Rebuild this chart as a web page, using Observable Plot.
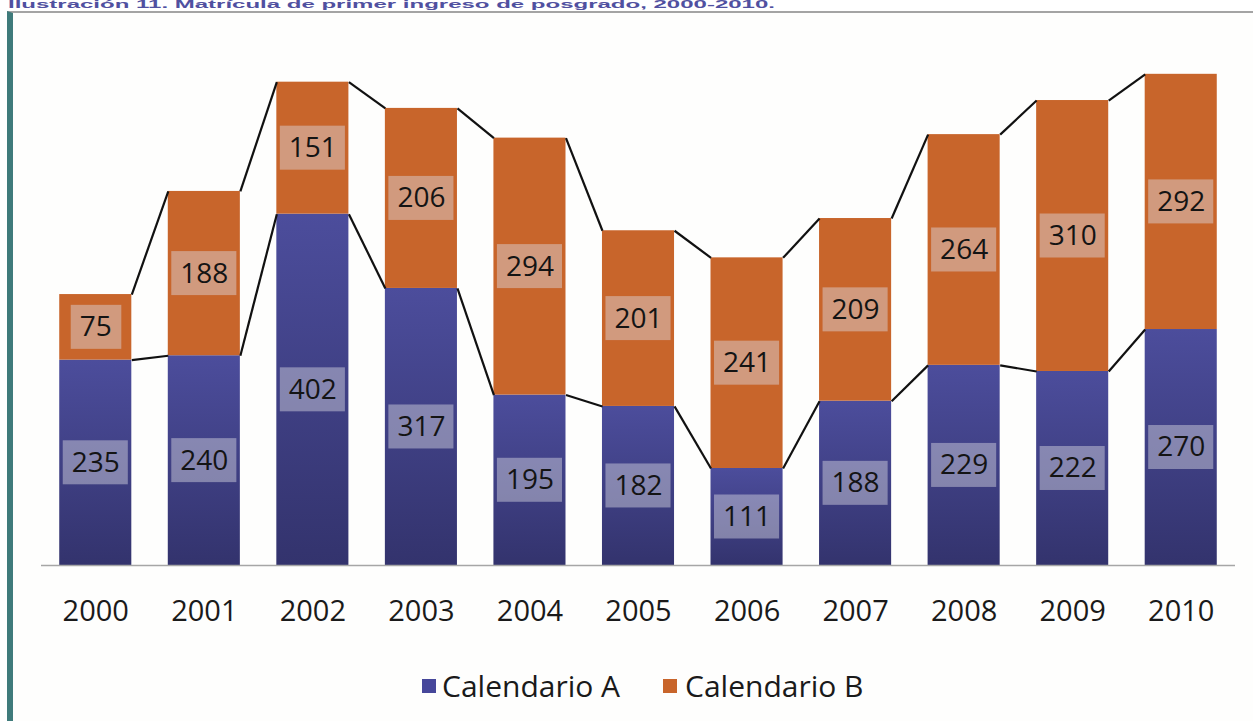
<!DOCTYPE html>
<html>
<head>
<meta charset="utf-8">
<script src="https://cdn.jsdelivr.net/npm/d3@7"></script>
<script src="https://cdn.jsdelivr.net/npm/@observablehq/plot@0.6"></script>
<style>
  html, body { margin: 0; padding: 0; background: #ffffff; width: 1253px; height: 721px; overflow: hidden; }
  #title { position: absolute; left: 8px; top: 0px; font: bold 24px "Liberation Sans", Arial, sans-serif; line-height: 24px; color: #5050a0; white-space: nowrap; transform: scaleY(0.42); transform-origin: 0 0; }
  #frame { position: absolute; left: 7px; top: 11px; width: 1246px; height: 710px; border-left: 6px solid #3f7b7b; border-top: 2px solid #a4a4a4; background: #fefefd; box-sizing: border-box; }
  #chart { position: absolute; left: 0; top: 0; }
  #legend { position: absolute; left: 0; top: 665px; width: 1253px; font: 30px "Open Sans", sans-serif; color: #1a1a1a; }
  .item { position: absolute; top: 0; line-height: 42px; white-space: nowrap; }
  .sw { position: absolute; top: 14px; width: 14px; height: 14px; }
</style>
</head>
<body>
<div id="frame"></div>
<div id="title">Ilustración 11. Matrícula de primer ingreso de posgrado, 2000-2010.</div>
<div id="chart"></div>
<div id="legend"></div>
<script>
const years = [2000, 2001, 2002, 2003, 2004, 2005, 2006, 2007, 2008, 2009, 2010];
const calendarioA = [235, 240, 402, 317, 195, 182, 111, 188, 229, 222, 270];
const calendarioB = [75, 188, 151, 206, 294, 201, 241, 209, 264, 310, 292];
const yearLabels = ["2000", "2001", "2002", "2003", "2004", "2005", "2006", "2007", "2008", "2009", "2010"];
const seriesNames = ["Calendario A", "Calendario B"];
const colorA = "url(#gradA)";
const colorB = "#c8652b";

const hw = 0.332; // half bar width in year units

const rows = years.map((yr, i) => ({
  year: yr,
  a: calendarioA[i],
  b: calendarioB[i],
  total: calendarioA[i] + calendarioB[i],
  midA: calendarioA[i] / 2,
  midB: calendarioA[i] + calendarioB[i] / 2
}));
const links = rows.slice(0, -1).map((r, i) => ({
  x1: r.year + hw, x2: rows[i + 1].year - hw,
  t1: r.total, t2: rows[i + 1].total,
  a1: r.a, a2: rows[i + 1].a
}));
const labelsA = rows.map(r => ({year: r.year, y: r.midA, text: String(r.a)}));
const labelsB = rows.map(r => ({year: r.year, y: r.midB, text: String(r.b)}));
const allLabels = labelsA.concat(labelsB);
const lab3 = allLabels.filter(d => d.text.length >= 3);
const lab2 = allLabels.filter(d => d.text.length < 3);

const font = "'Open Sans', sans-serif";

const chart = Plot.plot({
  width: 1253,
  height: 640,
  marginLeft: 41,
  marginRight: 18,
  marginTop: 40.6,
  marginBottom: 75,
  style: {background: "transparent", fontFamily: font, overflow: "visible"},
  x: {type: "linear", domain: [1999.5, 2010.5], axis: null},
  y: {domain: [0, 600], axis: null},
  marks: [
    Plot.rectY(rows, {x1: d => d.year - hw, x2: d => d.year + hw, y1: 0, y2: "a", fill: colorA}),
    Plot.rectY(rows, {x1: d => d.year - hw, x2: d => d.year + hw, y1: "a", y2: "total", fill: colorB}),
    Plot.rectY(lab3, {x1: d => d.year - hw, x2: d => d.year + hw, y1: "y", y2: "y", insetLeft: 3.5, insetRight: 3.5, insetTop: -22, insetBottom: -22, fill: "#dcdce4", fillOpacity: 0.45}),
    Plot.rectY(lab2, {x1: d => d.year - hw, x2: d => d.year + hw, y1: "y", y2: "y", insetLeft: 11.5, insetRight: 10, insetTop: -22, insetBottom: -22, fill: "#dcdce4", fillOpacity: 0.45}),
    Plot.text(allLabels, {x: "year", y: "y", text: "text", fontSize: 28, fill: "#141414", fontFamily: font}),
    Plot.link(links, {x1: "x1", x2: "x2", y1: "t1", y2: "t2", stroke: "#111", strokeWidth: 2.2}),
    Plot.link(links, {x1: "x1", x2: "x2", y1: "a1", y2: "a2", stroke: "#111", strokeWidth: 2.2}),
    Plot.ruleY([0], {stroke: "#a6a6a6", strokeWidth: 1.5}),
    Plot.axisX({ticks: years, tickFormat: (d) => yearLabels[years.indexOf(d)], tickSize: 0, tickPadding: 35, fontSize: 29, fill: "#1a1a1a", fontFamily: font})
  ]
});

// gradient for Calendario A bars
const ns = "http://www.w3.org/2000/svg";
const defs = document.createElementNS(ns, "defs");
const grad = document.createElementNS(ns, "linearGradient");
grad.setAttribute("id", "gradA");
grad.setAttribute("x1", "0"); grad.setAttribute("y1", "0");
grad.setAttribute("x2", "0"); grad.setAttribute("y2", "1");
[["0", "#4c4d9c"], ["1", "#33336d"]].forEach(([o, c]) => {
  const s = document.createElementNS(ns, "stop");
  s.setAttribute("offset", o); s.setAttribute("stop-color", c);
  grad.appendChild(s);
});
defs.appendChild(grad);
chart.insertBefore(defs, chart.firstChild);
document.getElementById("chart").appendChild(chart);

// legend
const legend = document.getElementById("legend");
const items = [
  {name: seriesNames[0], color: "#46479a", sw: 422, tx: 442},
  {name: seriesNames[1], color: colorB, sw: 663, tx: 685}
];
items.forEach(it => {
  const s = document.createElement("div");
  s.className = "sw"; s.style.left = it.sw + "px"; s.style.background = it.color;
  legend.appendChild(s);
  const t = document.createElement("div");
  t.className = "item"; t.style.left = it.tx + "px"; t.textContent = it.name;
  legend.appendChild(t);
});
</script>
</body>
</html>
